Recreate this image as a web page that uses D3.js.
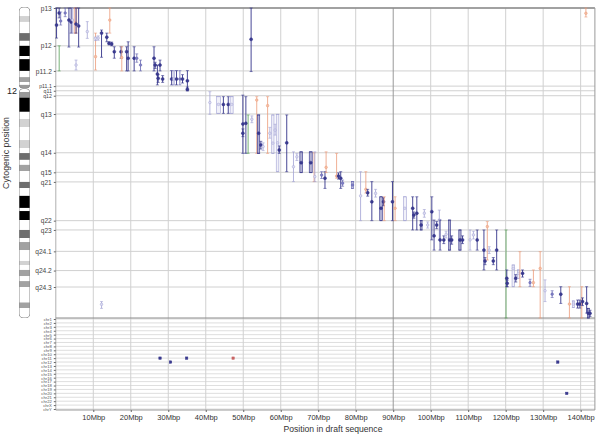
<!DOCTYPE html>
<html><head><meta charset="utf-8">
<script src="https://cdn.jsdelivr.net/npm/d3@7"></script>
<style>body{margin:0;background:#fff;} text{font-family:"Liberation Sans",Arial,Helvetica,sans-serif;}</style>
</head><body><svg id="c" width="600" height="436"></svg>
<script>
// ---------- data ----------
const xTicks = [10,20,30,40,50,60,70,80,90,100,110,120,130,140];
const seqLength = 143.8; // Mbp
const bandNames = ["p13","p12","p11.2","p11.1","q11","q12","q13","q14","q15","q21","q22","q23","q24.1","q24.2","q24.3"];
const bandPos = [0,12.2,20.3,25.2,26.7,28.3,34.2,46.7,53.0,56.1,68.6,71.6,78.5,84.7,90.0]; // % of chromosome length
const ideoStart = [0,2.6,4.5,8.1,10.6,12.2,15.5,16.5,20.3,22.3,23.9,24.8,27.1,28.9,33.5,35.8,38.4,42.6,45.2,46.8,49.0,50.6,52.6,56.1,58.1,60.6,64.5,65.5,68.4,71.6,74.2,75.5,78.1,81.6,82.9,84.5,86.5,88.1,90.0,95.0,96.8];
const ideoEnd   = [2.6,4.5,8.1,10.6,12.2,15.5,16.5,20.3,22.3,23.9,24.8,25.95,28.9,33.5,35.8,38.4,42.6,45.2,46.8,49.0,50.6,52.6,56.1,58.1,60.6,64.5,65.5,68.4,71.6,74.2,75.5,78.1,81.6,82.9,84.5,86.5,88.1,90.0,95.0,96.8,100];
const ideoStain = ["gneg","gpos25","gneg","gpos75","gneg","gpos100","gneg","gpos100","gneg","gpos50","gneg","acen","acen","gpos100","gneg","gpos25","gneg","gpos25","gneg","gpos75","gneg","gpos50","gneg","gpos75","gneg","gpos100","gneg","gpos100","gneg","gpos75","gneg","gpos50","gneg","gpos25","gneg","gpos50","gneg","gpos50","gneg","gpos50","gneg"];
const centromere = 25.95;
const otherChroms = ["chr1","chr2","chr3","chr4","chr5","chr6","chr7","chr8","chr9","chr10","chr11","chr12","chr13","chr14","chr15","chr16","chr17","chr18","chr19","chr20","chr21","chr22","chrX","chrY"];
const hitPos   = [27.8,30.6,34.9,47.3,133.9,136.3];
const hitChrom = ["chr11","chr12","chr11","chr11","chr12","chr20"];
const hitKind  = ["navy","navy","navy","red","navy","navy"];
// clones: [start Mbp, end Mbp, cytogenetic position, low, high, kind]
const clones = [
[0.2,0.2,5.5,0,9.7,"navy"],[0.9,0.9,1.6,0,3.2,"navy"],[1.3,1.3,4.2,1.3,5.5,"blue"],[2.5,2.5,1.6,0,2.8,"blue"],
[3.5,3.5,3.9,0,12.6,"navy"],[4.1,4.1,4.5,0,8.1,"navy"],[4.5,4.5,3.9,0,8.1,"light"],[4.9,5.6,4.8,0,8.1,"orange"],
[5.4,5.4,5.2,0,8.1,"navy"],[6.1,6.1,5.8,0,12.6,"navy"],[8.4,8.4,7.6,4.4,9.8,"light"],[5.4,5.4,18.4,16.8,20.0,"light"],
[0.9,0.9,null,12.2,20.3,"green"],[10.6,10.6,15.7,8.1,20.0,"orange"],[10.6,10.6,9.8,9.4,10.5,"light"],[11.3,11.3,9.7,9.0,10.4,"light"],
[12.2,12.2,8.1,7.1,15.9,"navy"],[13.6,13.6,9.4,8.1,10.9,"navy"],[14.2,14.2,11.4,10.9,11.9,"navy"],[14.4,14.4,3.9,0,8.1,"orange"],
[14.9,14.9,11.6,11.0,12.2,"navy"],[15.6,15.6,14.1,12.5,16.2,"navy"],[17.4,17.4,14.1,12.5,16.2,"navy"],[17.6,17.6,16.0,12.5,20.3,"orange"],
[18.9,18.9,14.1,12.5,20.3,"navy"],[19.3,19.3,16.2,10.9,20.3,"navy"],[20.9,20.9,16.2,12.5,20.3,"navy"],[21.6,21.6,16.2,14.8,17.5,"blue"],
[22.6,22.6,18.4,16.8,20.3,"blue"],[26.2,26.2,16.2,12.5,20.3,"navy"],[26.5,26.5,18.4,17.5,19.5,"navy"],[27.1,27.1,21.3,18.4,24.8,"navy"],
[27.3,27.3,22.7,21.5,24.0,"navy"],[27.8,27.8,18.4,16.8,20.3,"navy"],[28.5,28.5,22.9,21.8,24.0,"navy"],[30.9,30.9,22.9,20.2,24.8,"navy"],
[31.3,31.7,22.9,20.2,24.8,"light"],[32.2,32.2,22.9,20.2,24.8,"navy"],[33.1,33.1,22.9,20.2,24.8,"blue"],[33.8,33.8,22.9,21.5,24.2,"navy"],
[35.1,35.1,23.5,20.2,26.7,"navy"],[35.1,35.1,26.2,25.5,26.7,"navy"],[52.1,52.1,10.1,0,20.5,"navy"],
[41.1,41.1,30.5,27.0,34.3,"light"],[42.9,43.9,31.1,28.6,34.0,"light"],[44.7,44.7,31.1,28.6,34.0,"navy"],[46.0,46.0,31.1,28.6,34.0,"navy"],
[46.5,47.3,31.1,28.6,34.0,"light"],[49.9,49.9,37.4,28.1,46.9,"navy"],[49.9,49.9,40.4,39.0,41.5,"navy"],[50.7,50.7,37.2,28.6,46.9,"navy"],
[51.3,51.3,null,34.5,46.9,"green"],[52.3,52.3,35.9,34.8,37.0,"light"],[53.6,53.6,29.7,28.6,46.9,"orange"],[53.8,54.4,40.4,34.5,46.9,"navy"],
[54.7,54.7,44.2,43.0,45.5,"navy"],[55.3,55.3,44.7,43.5,46.0,"light"],[56.5,56.5,31.5,28.6,46.9,"orange"],[57.1,57.1,40.4,38.5,42.0,"light"],
[57.6,58.2,43.6,34.5,46.9,"light"],[58.5,58.5,39.4,37.5,41.0,"light"],[58.8,59.5,43.5,34.3,52.8,"light"],[59.6,59.6,45.8,44.5,46.9,"navy"],
[61.6,61.6,43.5,34.5,52.8,"navy"],
[63.4,63.4,51.2,46.4,56.0,"light"],[64.3,64.3,48.0,47.0,49.2,"light"],[65.1,65.8,49.9,46.4,53.1,"navy"],[67.6,68.4,49.9,46.4,53.1,"navy"],
[68.9,68.9,null,46.7,56.0,"orange"],[69.1,69.1,54.4,46.4,56.0,"light"],[70.9,70.9,53.9,52.8,55.0,"blue"],[71.8,71.8,54.9,52.8,58.2,"navy"],
[72.1,72.1,51.4,46.4,53.1,"orange"],[74.9,74.9,54.2,46.9,54.9,"orange"],[75.4,75.4,54.2,53.2,55.2,"navy"],[76.0,76.0,54.9,52.8,58.2,"navy"],
[76.5,76.5,56.5,55.5,57.5,"blue"],[78.9,79.4,57.1,56.0,58.2,"blue"],[81.3,81.3,60.6,52.8,68.6,"light"],[82.7,82.7,58.5,52.8,59.7,"orange"],
[83.2,83.2,59.6,58.5,60.7,"navy"],[84.3,84.3,62.5,56.0,68.6,"navy"],[85.3,85.3,59.8,58.5,61.0,"light"],[86.4,87.1,64.6,60.9,68.6,"navy"],
[87.4,87.4,62.5,61.2,63.8,"navy"],[87.6,87.6,null,60.9,68.6,"orange"],[89.8,89.8,62.5,56.0,68.6,"navy"],[90.5,90.5,64.6,60.9,68.6,"orange"],
[92.7,93.5,64.6,60.9,68.6,"light"],[95.2,95.2,64.6,60.9,71.6,"navy"],[95.5,95.5,66.8,65.8,67.8,"navy"],[96.3,96.3,66.2,60.9,71.6,"navy"],
[97.2,97.7,70.0,68.6,71.6,"navy"],[98.3,98.3,66.2,65.0,67.5,"light"],[99.2,99.2,70.0,69.0,71.0,"light"],[100.3,100.3,65.7,60.9,74.8,"navy"],
[100.9,100.9,73.5,68.4,78.1,"navy"],[101.6,101.6,70.0,68.9,71.2,"navy"],[102.3,102.3,68.4,65.2,74.8,"light"],[102.5,102.5,74.8,68.4,78.1,"navy"],
[103.5,103.5,74.8,73.5,76.0,"navy"],[104.1,104.1,73.0,72.0,74.2,"light"],[104.8,105.3,74.8,68.4,78.1,"navy"],[105.6,105.6,74.8,73.5,76.2,"navy"],
[107.5,108.1,74.8,71.6,78.1,"navy"],[108.5,108.5,74.8,73.5,76.0,"navy"],[110.5,110.5,74.8,71.6,78.1,"light"],[111.4,111.4,73.2,72.0,74.5,"light"],
[112.4,112.4,74.8,71.6,78.1,"navy"],[114.2,114.2,78.1,71.6,84.5,"navy"],[114.5,114.5,81.6,80.5,82.8,"navy"],[115.1,115.1,70.5,68.9,81.3,"orange"],
[115.6,115.6,78.1,77.0,79.2,"light"],[116.7,116.7,81.6,80.5,82.8,"navy"],[117.6,117.6,78.1,71.6,84.5,"navy"],[120.1,120.1,null,71.6,100,"green"],
[120.3,120.3,87.2,84.5,89.9,"navy"],[120.4,120.4,88.8,87.8,89.9,"navy"],[121.7,122.4,84.0,82.9,89.9,"light"],[122.7,122.7,87.2,86.0,88.4,"navy"],
[123.1,123.7,85.6,84.5,87.2,"light"],[123.8,123.8,null,78.6,89.9,"orange"],[124.5,124.5,85.6,84.5,86.8,"navy"],[126.5,126.5,88.6,87.5,89.8,"blue"],
[127.4,127.4,88.6,84.5,89.9,"orange"],[129.2,129.2,84.0,78.6,100,"orange"],[130.5,130.5,91.2,87.7,94.7,"light"],[132.4,132.4,92.3,91.2,93.4,"blue"],
[134.7,134.7,92.3,89.9,95.3,"navy"],[137.0,137.0,95.5,89.9,100,"orange"],[137.8,138.3,95.5,94.5,96.6,"light"],[139.2,139.2,95.5,94.2,96.8,"navy"],
[139.8,139.8,95.5,94.2,96.8,"navy"],[140.3,140.3,null,89.9,100,"orange"],[140.5,140.5,94.7,93.5,96.0,"navy"],[141.4,141.4,1.7,0,2.9,"orange"],
[141.6,141.6,95.3,89.9,98.4,"navy"],[141.8,142.3,98.5,96.9,100,"navy"],[142.5,142.5,98.5,97.5,99.5,"navy"],[12.2,12.2,95.6,94.7,96.9,"light"]
];

// ---------- drawing ----------
const svg = d3.select("#c");
const x = d3.scaleLinear().domain([0, seqLength]).range([55.8, 594.9]);
const y = d3.scaleLinear().domain([0, 100]).range([8, 318]);
const yc = d3.scalePoint().domain(otherChroms).range([319, 409]);
const stroke = {navy:"#33338a", blue:"#6464b0", light:"#a2a2d4", orange:"#eb9a78", green:"#55a055", red:"#c86464"};
const fillC  = {navy:"#3a3a8e", blue:"#8080c4", light:"#dcdcf0", orange:"#f4bea4", green:"#55a055", red:"#c86464"};
const stainC = {gneg:"#ffffff", gpos25:"#d2d2d2", gpos50:"#a2a2a2", gpos75:"#6e6e6e", gpos100:"#000000", acen:"#9a9a9a"};
const x0 = x(0), x1 = x(seqLength), yBot = 410;

// grid: horizontal band lines
svg.append("g").selectAll("line").data(bandPos).join("line")
  .attr("x1", x0).attr("x2", x1).attr("y1", d => y(d)).attr("y2", d => y(d))
  .attr("stroke", "#d0d0d0").attr("stroke-width", 1);
// grid: other chromosome rows
svg.append("g").selectAll("line").data(otherChroms).join("line")
  .attr("x1", x0).attr("x2", x1).attr("y1", d => yc(d)).attr("y2", d => yc(d))
  .attr("stroke", "#d6d6d6").attr("stroke-width", 0.8);
// grid: vertical
svg.append("g").selectAll("line").data(xTicks).join("line")
  .attr("x1", d => x(d)).attr("x2", d => x(d)).attr("y1", 8).attr("y2", yBot)
  .attr("stroke", d => d === 90 ? "#9a9a9a" : "#d0d0d0").attr("stroke-width", 1);

// frame
const frame = svg.append("g").attr("fill", "none");
frame.append("line").attr("x1", x0).attr("x2", x1).attr("y1", 8).attr("y2", 8).attr("stroke", "#8a8a8a").attr("stroke-width", 1.6);
frame.append("line").attr("x1", x1).attr("x2", x1).attr("y1", 8).attr("y2", yBot).attr("stroke", "#9a9a9a");
frame.append("line").attr("x1", x0).attr("x2", x0).attr("y1", 8).attr("y2", yBot).attr("stroke", "#b0b0b0");
frame.append("line").attr("x1", x0).attr("x2", x1).attr("y1", y(100)).attr("y2", y(100)).attr("stroke", "#8a8a8a");
frame.append("line").attr("x1", x0).attr("x2", x1).attr("y1", yBot).attr("y2", yBot).attr("stroke", "#9a9a9a");

// axes
const yAxis = svg.append("g").attr("transform", `translate(${x0},0)`)
  .call(d3.axisLeft(y).tickValues(bandPos).tickFormat((d,i) => bandNames[i]).tickSize(2).tickPadding(2));
yAxis.select(".domain").remove();
yAxis.selectAll("text").attr("font-size", (d,i) => (i >= 3 && i <= 5) ? 5.2 : 6.6).attr("fill", "#444");
yAxis.selectAll("line").attr("stroke", "#666");

const cAxis = svg.append("g").attr("transform", `translate(${x0},0)`)
  .call(d3.axisLeft(yc).tickSize(2).tickPadding(2));
cAxis.select(".domain").remove();
cAxis.selectAll("text").attr("font-size", 4.2).attr("fill", "#555");
cAxis.selectAll("line").attr("stroke", "#666");

const xAxis = svg.append("g").attr("transform", `translate(0,${yBot})`)
  .call(d3.axisBottom(x).tickValues(xTicks).tickFormat(d => d + "Mbp").tickSize(2).tickPadding(3));
xAxis.select(".domain").remove();
xAxis.selectAll("text").attr("font-size", 7.5).attr("fill", "#333");
xAxis.selectAll("line").attr("stroke", "#666");

svg.append("text").attr("x", 333).attr("y", 432).attr("text-anchor", "middle")
  .attr("font-size", 8.6).attr("fill", "#333").text("Position in draft sequence");
svg.append("text").attr("transform", "translate(9,153) rotate(-90)").attr("text-anchor", "middle")
  .attr("font-size", 8.8).attr("fill", "#333").text("Cytogenic position");

// ideogram
const ix = 19, iw = 11;
const defs = svg.append("defs");
defs.append("clipPath").attr("id", "pclip").append("rect")
  .attr("x", ix).attr("y", y(0) - 1).attr("width", iw).attr("height", y(centromere) - y(0) + 1).attr("rx", 4);
defs.append("clipPath").attr("id", "qclip").append("rect")
  .attr("x", ix).attr("y", y(centromere)).attr("width", iw).attr("height", y(100) - y(centromere)).attr("rx", 4);
const bandIdx = d3.range(ideoStart.length);
["p","q"].forEach(arm => {
  const gA = svg.append("g").attr("clip-path", `url(#${arm}clip)`);
  gA.selectAll("rect").data(bandIdx.filter(i => arm === "p" ? ideoEnd[i] <= centromere : ideoStart[i] >= centromere - 0.01))
    .join("rect").attr("x", ix).attr("width", iw)
    .attr("y", i => y(ideoStart[i]) - (i === 0 ? 1 : 0))
    .attr("height", i => y(ideoEnd[i]) - y(ideoStart[i]) + (i === 0 ? 1 : 0))
    .attr("fill", i => stainC[ideoStain[i]]);
  gA.append("rect").attr("x", ix).attr("width", iw)
    .attr("y", arm === "p" ? y(0) - 1 : y(centromere))
    .attr("height", arm === "p" ? y(centromere) - y(0) + 1 : y(100) - y(centromere))
    .attr("rx", 4).attr("fill", "none").attr("stroke", "#8a8a8a").attr("stroke-width", 1);
});
svg.append("text").attr("x", 12).attr("y", 94).attr("text-anchor", "middle")
  .attr("font-size", 9).attr("fill", "#222").text("12");

// clones
const cg = svg.append("g");
clones.forEach(c => {
  const [s, e, cy, lo, hi, kind] = c;
  const col = stroke[kind];
  if (e > s) {
    cg.append("rect").attr("x", x(s)).attr("y", y(lo)).attr("width", Math.max(1, x(e) - x(s))).attr("height", y(hi) - y(lo))
      .attr("fill", fillC[kind]).attr("fill-opacity", 0.4).attr("stroke", col).attr("stroke-width", 0.6);
  } else {
    cg.append("line").attr("x1", x(s)).attr("x2", x(s)).attr("y1", y(lo)).attr("y2", y(hi))
      .attr("stroke", col).attr("stroke-width", kind === "navy" ? 0.9 : 0.8);
  }
  const xm = (x(s) + x(e)) / 2;
  [lo, hi].forEach(v => cg.append("line").attr("x1", xm - 1.5).attr("x2", xm + 1.5).attr("y1", y(v)).attr("y2", y(v))
      .attr("stroke", col).attr("stroke-width", 0.6));
  if (cy !== null) {
    cg.append("circle").attr("cx", xm).attr("cy", y(cy)).attr("r", kind === "navy" ? 1.5 : 1.3)
      .attr("fill", fillC[kind]).attr("stroke", col).attr("stroke-width", 0.5);
  }
});

// hits on other chromosomes
svg.append("g").selectAll("rect").data(d3.range(hitPos.length)).join("rect")
  .attr("x", i => x(hitPos[i]) - 1.2).attr("y", i => yc(hitChrom[i]) - 1.2)
  .attr("width", 2.4).attr("height", 2.4)
  .attr("fill", i => fillC[hitKind[i]]).attr("stroke", i => stroke[hitKind[i]]).attr("stroke-width", 0.5);
</script></body></html>
